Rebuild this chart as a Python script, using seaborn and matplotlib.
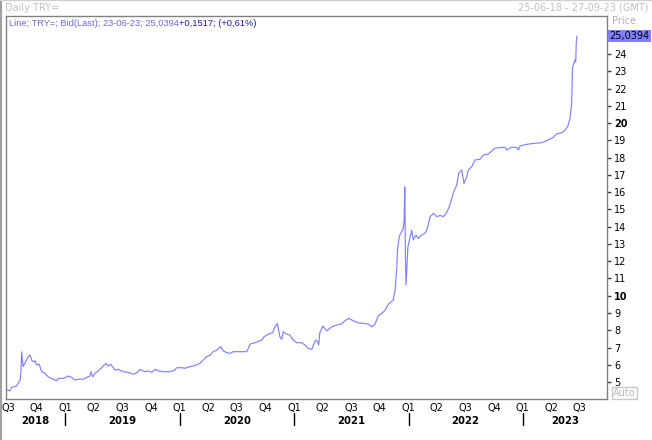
import matplotlib
matplotlib.use("Agg")
import matplotlib.pyplot as plt
import matplotlib.dates as mdates
import matplotlib.transforms as mtransforms
from matplotlib.lines import Line2D
import pandas as pd
import seaborn as sns

# ---- data ----
dates = [
    "2018-06-25", "2018-07-08", "2018-07-13", "2018-07-29", "2018-08-03", "2018-08-09",
    "2018-08-12", "2018-08-14", "2018-08-19", "2018-08-25", "2018-09-04", "2018-09-10",
    "2018-09-15", "2018-09-20", "2018-09-26", "2018-10-01", "2018-10-09", "2018-10-17",
    "2018-10-28", "2018-11-07", "2018-11-23", "2018-12-04", "2018-12-09", "2018-12-25",
    "2019-01-05", "2019-01-10", "2019-01-21", "2019-01-31", "2019-02-11", "2019-02-27",
    "2019-03-10", "2019-03-20", "2019-03-23", "2019-03-29", "2019-04-05", "2019-04-16",
    "2019-04-27", "2019-05-10", "2019-05-18", "2019-05-26", "2019-06-08", "2019-06-19",
    "2019-07-05", "2019-07-21", "2019-08-06", "2019-08-17", "2019-08-27", "2019-09-12",
    "2019-09-23", "2019-10-03", "2019-10-14", "2019-10-25", "2019-11-10", "2019-12-01",
    "2019-12-17", "2019-12-22", "2020-01-07", "2020-01-18", "2020-02-03", "2020-02-19",
    "2020-03-05", "2020-03-16", "2020-03-27", "2020-04-07", "2020-04-17", "2020-04-28",
    "2020-05-11", "2020-05-19", "2020-05-30", "2020-06-10", "2020-06-20", "2020-07-12",
    "2020-08-02", "2020-08-07", "2020-08-13", "2020-08-28", "2020-09-08", "2020-09-19",
    "2020-09-26", "2020-10-10", "2020-10-24", "2020-10-31", "2020-11-08", "2020-11-16",
    "2020-11-22", "2020-11-27", "2020-12-08", "2020-12-18", "2020-12-29", "2021-01-09",
    "2021-01-25", "2021-02-04", "2021-02-15", "2021-02-26", "2021-03-05", "2021-03-11",
    "2021-03-17", "2021-03-20", "2021-03-23", "2021-04-02", "2021-04-15", "2021-05-01",
    "2021-05-16", "2021-06-01", "2021-06-12", "2021-06-23", "2021-07-09", "2021-07-24",
    "2021-08-09", "2021-08-25", "2021-09-05", "2021-09-16", "2021-09-26", "2021-10-07",
    "2021-10-18", "2021-10-28", "2021-11-13", "2021-11-19", "2021-11-24", "2021-11-27",
    "2021-12-02", "2021-12-10", "2021-12-15", "2021-12-18", "2021-12-20", "2021-12-22",
    "2021-12-24", "2021-12-30", "2022-01-11", "2022-01-16", "2022-01-25", "2022-02-01",
    "2022-02-12", "2022-02-23", "2022-03-02", "2022-03-11", "2022-03-22", "2022-04-01",
    "2022-04-12", "2022-04-22", "2022-05-03", "2022-05-13", "2022-05-24", "2022-06-04",
    "2022-06-10", "2022-06-20", "2022-06-27", "2022-07-06", "2022-07-11", "2022-07-22",
    "2022-08-01", "2022-08-17", "2022-08-28", "2022-09-13", "2022-10-04", "2022-10-20",
    "2022-11-05", "2022-11-11", "2022-11-27", "2022-12-13", "2022-12-18", "2022-12-23",
    "2023-01-13", "2023-02-09", "2023-03-02", "2023-03-18", "2023-04-08", "2023-04-19",
    "2023-05-05", "2023-05-19", "2023-05-26", "2023-06-01", "2023-06-06", "2023-06-09",
    "2023-06-17", "2023-06-19", "2023-06-21", "2023-06-23",
]
prices = [
    4.55, 4.50, 4.70, 4.77, 4.94, 5.10,
    5.70, 6.75, 5.90, 6.10, 6.47, 6.56,
    6.27, 6.18, 6.23, 5.98, 6.04, 5.60,
    5.50, 5.30, 5.16, 5.08, 5.21, 5.21,
    5.30, 5.35, 5.27, 5.12, 5.16, 5.17,
    5.27, 5.35, 5.60, 5.30, 5.50, 5.65,
    5.85, 6.08, 5.93, 6.02, 5.70, 5.73,
    5.60, 5.56, 5.46, 5.54, 5.73, 5.60,
    5.65, 5.56, 5.73, 5.65, 5.60, 5.60,
    5.70, 5.83, 5.83, 5.80, 5.89, 5.96,
    6.08, 6.27, 6.47, 6.56, 6.76, 6.85,
    7.05, 6.81, 6.70, 6.66, 6.76, 6.76,
    6.76, 6.95, 7.20, 7.28, 7.36, 7.43,
    7.62, 7.78, 7.86, 8.20, 8.40, 7.62,
    7.47, 7.91, 7.78, 7.72, 7.43, 7.28,
    7.28, 7.14, 6.95, 6.89, 7.24, 7.43,
    7.34, 7.14, 7.82, 8.24, 7.97, 8.20,
    8.30, 8.36, 8.55, 8.69, 8.55, 8.43,
    8.40, 8.36, 8.20, 8.36, 8.82, 8.98,
    9.15, 9.50, 9.75, 10.33, 11.50, 12.65,
    13.42, 13.71, 13.90, 14.39, 16.30, 12.26,
    10.62, 12.84, 13.80, 13.23, 13.52, 13.32,
    13.52, 13.62, 13.90, 14.58, 14.77, 14.58,
    14.65, 14.58, 14.81, 15.25, 15.95, 16.41,
    17.09, 17.28, 16.50, 16.90, 17.28, 17.47,
    17.86, 17.90, 18.15, 18.21, 18.54, 18.58,
    18.60, 18.44, 18.60, 18.58, 18.44, 18.67,
    18.77, 18.83, 18.86, 18.98, 19.17, 19.37,
    19.44, 19.64, 19.89, 20.28, 21.14, 23.27,
    23.65, 23.55, 24.70, 25.0394,
]
y_ticks = [5, 6, 7, 8, 9, 10, 11, 12, 13, 14, 15, 16, 17, 18, 19, 20, 21, 22, 23, 24]
bold_ticks = [10, 20]
years = [2018, 2019, 2020, 2021, 2022, 2023]
x_start, x_end = "2018-06-25", "2023-09-27"
last_label = "25,0394"
header_1 = "Line; TRY=; Bid(Last); 23-06-23; 25,0394"
header_2 = "+0,1517; (+0,61%)"

# ---- figure ----
sns.set_style("white")
plt.rcParams["font.family"] = ["DejaVu Sans"]

W, H = 652, 440
fig = plt.figure(figsize=(W / 100, H / 100), dpi=100)
L, R, T, B = 6, 607, 16, 399
ax = fig.add_axes([L / W, 1 - B / H, (R - L) / W, (B - T) / H])

df = pd.DataFrame({"date": pd.to_datetime(dates), "price": prices})
sns.lineplot(data=df, x="date", y="price", ax=ax, color="#8080ff", linewidth=0.85)

x0, x1 = pd.Timestamp(x_start), pd.Timestamp(x_end)
ax.set_xlim(x0, x1)
ax.set_ylim(4.02, 26.2)
ax.set_xlabel("")
ax.set_ylabel("")
ax.grid(False)
for s in ax.spines.values():
    s.set_color("#808080")
    s.set_linewidth(1.0)

# y axis on the right
ax.yaxis.tick_right()
ax.set_yticks(y_ticks)
ax.set_yticklabels([str(v) for v in y_ticks])
for lab, v in zip(ax.get_yticklabels(), y_ticks):
    if v in bold_ticks:
        lab.set_fontweight("bold")
ax.tick_params(axis="y", direction="out", length=3, width=1, color="#404040",
               pad=2, labelsize=7, labelcolor="black")

# x axis: quarters
qs = pd.date_range("2018-07-01", "2023-07-01", freq="QS")
ax.set_xticks(qs)
ax.set_xticklabels([f"Q{d.quarter}" for d in qs])
ax.tick_params(axis="x", direction="out", length=2, width=1, color="#404040",
               pad=1, labelsize=7, labelcolor="black")

trans = mtransforms.blended_transform_factory(ax.transData, ax.transAxes)
for yr in years:
    a = max(pd.Timestamp(f"{yr}-01-01"), x0)
    b = min(pd.Timestamp(f"{yr + 1}-01-01"), x1)
    mid = a + (b - a) / 2
    ax.text(mdates.date2num(mid), -0.058, str(yr), transform=trans, ha="center",
            va="center", fontsize=7.3, fontweight="bold", color="black")
    if pd.Timestamp(f"{yr}-01-01") > x0:
        d = mdates.date2num(pd.Timestamp(f"{yr}-01-01"))
        ax.plot([d, d], [-0.037, -0.068], transform=trans, color="black",
                lw=1, clip_on=False)

# last value label
ytrans = mtransforms.blended_transform_factory(ax.transAxes, ax.transData)
ax.text(1.004, prices[-1], last_label, transform=ytrans, ha="left", va="center",
        fontsize=7, color="black",
        bbox=dict(boxstyle="square,pad=0.15", fc="#8080ff", ec="none"))

# header inside plot
t1 = ax.text(3 / (R - L), 1 - 7 / (B - T), header_1, transform=ax.transAxes,
             ha="left", va="center", fontsize=6.7, color="#6a6ad8",
             family="Liberation Sans")
ax.annotate(header_2, xy=(1, 0.5), xycoords=t1, ha="left", va="center",
            fontsize=6.7, color="#1a1ab0", family="Liberation Sans")

# window texts
fig.text(5 / W, 1 - 8 / H, "Daily TRY=", ha="left", va="center", fontsize=7,
         color="#c0c0c0")
fig.text(648 / W, 1 - 8 / H, "25-06-18 - 27-09-23 (GMT)", ha="right",
         va="center", fontsize=7, color="#c0c0c0")
fig.text(612 / W, 1 - 21 / H, "Price", ha="left", va="center", fontsize=7,
         color="#b0b0b0")
fig.text(613 / W, 1 - 393 / H, "Auto", ha="left", va="center", fontsize=7,
         color="#b8b8b8",
         bbox=dict(boxstyle="square,pad=0.1", fc="white", ec="#c8c8c8", lw=1))

# window frame edges
fig.add_artist(Line2D([1 / W, 1 / W], [0, 1], color="#a0a0a0", lw=1.5))
fig.add_artist(Line2D([0, 1], [1 - 0.5 / H, 1 - 0.5 / H], color="#d0d0d0", lw=1))

fig.savefig("out.png", dpi=100)
